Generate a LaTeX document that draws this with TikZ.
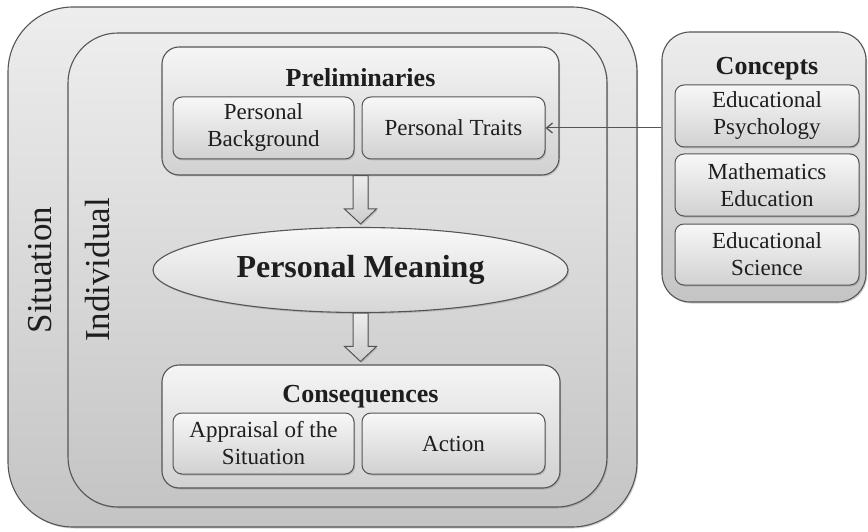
\documentclass[tikz,border=0pt]{standalone}
\usepackage{fontspec}
\setmainfont{Liberation Serif}
\usetikzlibrary{shadows,calc,arrows.meta,shapes.geometric}
\definecolor{edge}{HTML}{555555}
\definecolor{ink}{HTML}{1E1E1E}
\tikzset{
  shd/.style={drop shadow={shadow xshift=1.2pt,shadow yshift=-1.5pt,opacity=0.35}},
  bigbox/.style={draw=edge,line width=1.1pt,rounded corners=#1,top color=gray!14,bottom color=gray!46,shd},
  grp/.style={draw=edge,line width=1.1pt,rounded corners=17pt,top color=gray!8,bottom color=gray!36,shd},
  sub/.style={draw=edge,line width=1pt,rounded corners=9pt,top color=gray!6,bottom color=gray!36,shd,
     align=center,font=\fontsize{23}{27}\selectfont,text=ink,inner sep=0pt},
  ttl/.style={font=\fontsize{26}{30}\selectfont\bfseries,text=ink,anchor=base,inner sep=0pt},
  side/.style={font=\fontsize{35}{40}\selectfont,text=ink,rotate=90,inner sep=0pt},
  barrow/.style={draw=edge,line width=1pt,top color=gray!14,bottom color=gray!40,shd},
}
\newcommand\blockarrow[2]{%
  \draw[barrow] let \p1=(#1), \p2=(#2) in
    (\x1-7.5pt,\y1) -- (\x1-7.5pt,\y2+15pt) -- (\x1-16pt,\y2+15pt) -- (\x1,\y2)
    -- (\x1+16pt,\y2+15pt) -- (\x1+7.5pt,\y2+15pt) -- (\x1+7.5pt,\y1) -- cycle;}
\begin{document}
\begin{tikzpicture}[x=1pt,y=-1pt]
\useasboundingbox (0,0) rectangle (868,532);
% outer containers
\node[bigbox=65pt,minimum width=629pt,minimum height=520pt,inner sep=0pt] (sit) at (322.5,267) {};
\node[bigbox=50pt,minimum width=539pt,minimum height=474pt,inner sep=0pt] (ind) at (337.5,270) {};
\node[side] (sitlbl) at (40,270) {Situation};
\node[side] (indlbl) at (98,270) {Individual};
% preliminaries
\node[grp,minimum width=397pt,minimum height=128pt,inner sep=0pt] (prelim) at (360.5,111) {};
\node[ttl] (prelimt) at (360.5,87) {Preliminaries};
\node[sub,minimum width=181pt,minimum height=62pt] (pb) at (263.5,128) {Personal\\Background};
\node[sub,minimum width=183pt,minimum height=62pt] (pt) at (453.5,128) {Personal Traits};
% personal meaning
\node[ellipse,draw=edge,line width=1.1pt,top color=gray!5,bottom color=gray!32,shd,
      minimum width=415pt,minimum height=85pt,inner sep=0pt,text=ink,
      font=\fontsize{32}{36}\selectfont\bfseries] (pm) at (360.5,270) {Personal Meaning};
% consequences
\node[grp,minimum width=398pt,minimum height=123pt,inner sep=0pt] (cons) at (361,426.5) {};
\node[ttl] (const) at (360.5,402) {Consequences};
\node[sub,minimum width=181pt,minimum height=61pt] (as) at (263.5,443.5) {Appraisal of the\\Situation};
\node[sub,minimum width=183pt,minimum height=61pt] (act) at (453.5,443.5) {Action};
% block arrows
\blockarrow{prelim.south}{$(pm.north)+(0,-3)$}
\blockarrow{pm.south}{$(cons.north)+(0,-3)$}
% concepts
\node[bigbox=28pt,minimum width=204pt,minimum height=270pt,inner sep=0pt] (conc) at (764,167) {};
\node[ttl] (conct) at (767,75) {Concepts};
\node[sub,minimum width=184pt,minimum height=62pt] (ep) at (767,116) {Educational\\Psychology};
\node[sub,minimum width=184pt,minimum height=62pt] (me) at (767,185) {Mathematics\\Education};
\node[sub,minimum width=184pt,minimum height=61pt] (es) at (767,254.5) {Educational\\Science};
% connector
\draw[edge,line width=1pt,-{Straight Barb[length=6pt,width=10pt,line width=1.3pt]}] (pt.east -| conc.west) -- (pt.east);
\end{tikzpicture}
\end{document}
